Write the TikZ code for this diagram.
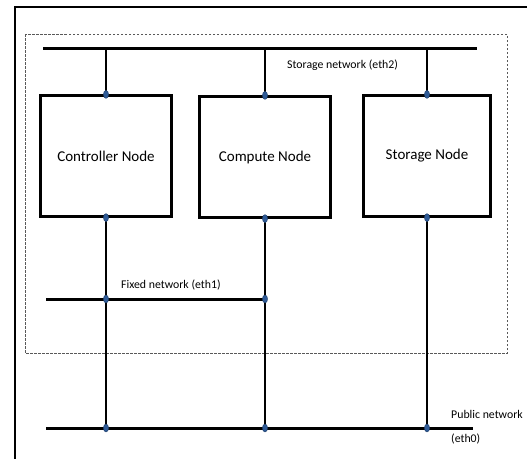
\documentclass[tikz,border=0pt]{standalone}
\usepackage{fontspec}
\setmainfont{Carlito}
\usetikzlibrary{calc}

\definecolor{portblue}{RGB}{46,90,150}

\tikzset{
	hostbox/.style={draw, line width=2.2pt, minimum width=131pt, minimum height=121pt, inner sep=0pt, font=\fontsize{15}{17}\selectfont},
	bus/.style={line width=3pt},
	wire/.style={line width=2pt},
	netlabel/.style={anchor=west, inner sep=0pt, font=\fontsize{11.8}{14}\selectfont},
	portdot/.style={fill=portblue, draw=portblue!70!black, line width=0.4pt}
}
\newcommand{\port}[1]{\filldraw[portdot] (#1) ellipse (2.6pt and 4pt);}

\begin{document}
\begin{tikzpicture}[x=1pt, y=-1pt]
	\useasboundingbox (0,0) rectangle (527,458);
	
	%frame
	\draw[line width=2.6pt] (15,470) -- (15,7) -- (540,7);
	\draw[dashed, dash pattern=on 2.5pt off 1.5pt, black!65, line width=1pt] (25,34) rectangle (507,353);
	
	%nodes
	\node[hostbox] (ctrl) at (106,156) {Controller Node};
	\node[hostbox] (comp) at (265,157) {Compute Node};
	\node[hostbox, minimum width=127pt] (stor) at (427,156) {Storage Node};
	
	%bus ends
	\coordinate (st-l) at (43,48);
	\coordinate (st-r) at (477,48);
	\coordinate (fx-l) at (46,299);
	\coordinate (pb-l) at (46,428);
	\coordinate (pb-r) at (473,428);
	
	%labels
	\node[netlabel] (st-lab) at (287,65) {Storage network (eth2)};
	\node[netlabel] (fx-lab) at (121,285) {Fixed network (eth1)};
	\node[netlabel, align=left, font=\fontsize{11.8}{24}\selectfont] (pb-lab) at (451,427) {Public network\\(eth0)};
	
	%buses
	\draw[bus] (st-l) -- (st-r);
	\draw[bus] (fx-l) -- (fx-l -| comp.south);
	\draw[bus] (pb-l) -- (pb-r);
	
	%lines
	\draw[wire] (ctrl.north) -- (ctrl.north |- st-l);	%ctrl--eth2
	\draw[wire] (comp.north) -- (comp.north |- st-l);	%comp--eth2
	\draw[wire] (stor.north) -- (stor.north |- st-l);	%stor--eth2
	\draw[wire] (ctrl.south) -- (ctrl.south |- pb-l);	%ctrl--eth1,eth0
	\draw[wire] (comp.south) -- (comp.south |- pb-l);	%comp--eth1,eth0
	\draw[wire] (stor.south) -- (stor.south |- pb-l);	%stor--eth0
	
	%ports
	\port{ctrl.north} \port{comp.north} \port{stor.north}
	\port{ctrl.south} \port{comp.south} \port{stor.south}
	\port{ctrl.south |- fx-l} \port{comp.south |- fx-l}
	\port{ctrl.south |- pb-l} \port{comp.south |- pb-l} \port{stor.south |- pb-l}
	
\end{tikzpicture}
\end{document}
